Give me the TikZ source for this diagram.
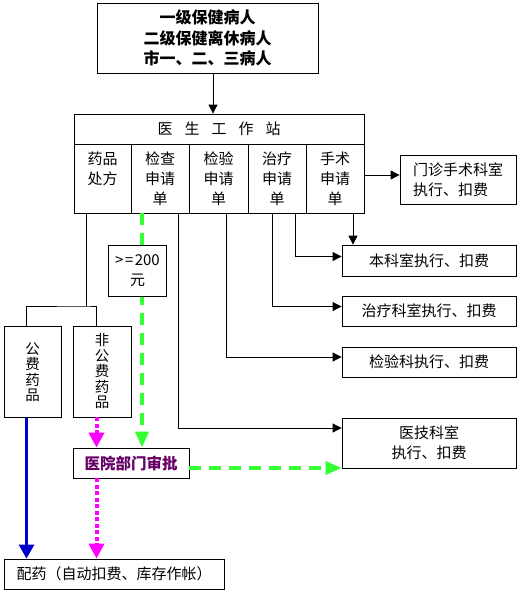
\documentclass[tikz,border=0pt]{standalone}
\usepackage{fontspec}
\setmainfont{Noto Sans CJK SC}
\usetikzlibrary{arrows.meta}
\definecolor{gr}{RGB}{51,255,51}
\definecolor{mg}{RGB}{255,0,255}
\definecolor{bl}{RGB}{0,0,204}
\definecolor{pu}{RGB}{102,0,102}
\begin{document}
\begin{tikzpicture}[x=1pt,y=-1pt,font=\fontsize{15}{20}\selectfont,
  box/.style={draw,line width=0.8pt,inner sep=0pt,fill=white},
  ln/.style={line width=0.8pt},
  arr/.style={line width=0.8pt,-{Triangle[length=9pt,width=9pt]}},
  gdash/.style={draw=gr,line width=3.5pt,dash pattern=on 12pt off 8pt,-{Triangle[length=16pt,width=13pt]}},
  mdot/.style={draw=mg,line width=4pt,dash pattern=on 4pt off 2.5pt,-{Triangle[length=15pt,width=15pt]}},
  bline/.style={draw=bl,line width=3pt,-{Triangle[length=14pt,width=15pt]}},
  vtext/.style={align=center,font=\fontsize{14.5}{15.5}\selectfont},
  ctext/.style={anchor=north,align=center,inner sep=0pt}
]
\useasboundingbox (0,0) rectangle (519,592);
\fill[white] (0,0) rectangle (519,592);

% top box
\node[box,minimum width=221pt,minimum height=70pt,align=center,font=\bfseries\fontsize{16}{20.5}\selectfont] (top) at (207.5,38) {一级保健病人\\二级保健离休病人\\市一、二、三病人};

% doctor work station
\node[box,minimum width=290pt,minimum height=99pt] (ws) at (219,163.5) {};
\coordinate (hl) at (0,144);
\draw[ln] (ws.west |- hl) -- (ws.east |- hl);
\foreach \x in {131,189,248,306} \draw[ln] (\x,144) -- (\x,213);
\node (hd) at (219,129) {医\hspace{12pt}生\hspace{12pt}工\hspace{12pt}作\hspace{12pt}站};
\node[ctext] (c1) at (102.5,152) {药品\\处方};
\node[ctext] (c2) at (160,152) {检查\\申请\\单};
\node[ctext] (c3) at (218.5,152) {检验\\申请\\单};
\node[ctext] (c4) at (277,152) {治疗\\申请\\单};
\node[ctext] (c5) at (335,152) {手术\\申请\\单};

\draw[arr] ([xshift=5.5pt]top.south) -- ([xshift=-6pt]ws.north);

% right boxes
\node[box,minimum width=116pt,minimum height=49pt,align=left] (mz) at (458,179.5) {门诊手术科室\\执行、扣费};
\node[box,minimum width=174pt,minimum height=31pt] (bk) at (429,260.5) {本科室执行、扣费};
\node[box,minimum width=174pt,minimum height=30pt] (zl) at (429,311) {治疗科室执行、扣费};
\node[box,minimum width=174pt,minimum height=30pt] (jy) at (429,362) {检验科执行、扣费};
\node[box,minimum width=174pt,minimum height=50pt,align=center] (yj) at (429,443) {医技科室\\执行、扣费};

% left boxes
\node[box,minimum width=57pt,minimum height=91pt,vtext] (gf) at (32.5,372) {公\\费\\药\\品};
\node[box,minimum width=58pt,minimum height=91pt,vtext] (fg) at (102,371.5) {非\\公\\费\\药\\品};
\node[box,minimum width=116pt,minimum height=30pt,text=pu,font=\bfseries\fontsize{15.5}{20}\selectfont] (sp) at (131,463) {医院部门审批};
\node[box,minimum width=220pt,minimum height=30pt] (py) at (114,574) {配药（自动扣费、库存作帐）};

% connectors
\coordinate (mzin) at ([yshift=4.5pt]mz.west);
\draw[arr] (ws.east |- mzin) -- (mzin);

\coordinate (fk) at (86,306);
\coordinate (xa) at (26.5,0);
\coordinate (xb) at (96.5,0);
\coordinate (xg) at (142,0);
\draw[ln] (ws.south -| fk) -- (fk);
\draw[ln] (gf.north -| xa) |- (fk) -| (fg.north -| xb);

\coordinate (xx1) at (295,256.5);
\coordinate (xx2) at (272,306.5);
\coordinate (xx3) at (226,357);
\coordinate (xx4) at (178,428);
\coordinate (xx5) at (353,0);
\draw[arr] (ws.south -| xx1) |- (bk.west |- xx1);
\draw[arr] (ws.south -| xx2) |- (zl.west |- xx2);
\draw[arr] (ws.south -| xx3) |- (jy.west |- xx3);
\draw[arr] (ws.south -| xx4) |- (yj.west |- xx4);
\draw[arr] (ws.south -| xx5) -- (bk.north -| xx5);

\draw[gdash] (ws.south -| xg) -- (sp.north -| xg);
\node[box,minimum width=58pt,minimum height=51pt,align=center] (lim) at (137.5,271) {>\kern1.5pt=\kern1.5pt200\\元};

\coordinate (gy) at (0,468);
\draw[gdash] (sp.east |- gy) -- (yj.west |- gy);

\draw[mdot] (fg.south -| xb) -- (sp.north -| xb);
\draw[mdot] (sp.south -| xb) -- (py.north -| xb);
\draw[bline] (gf.south -| xa) -- (py.north -| xa);
\end{tikzpicture}
\end{document}
